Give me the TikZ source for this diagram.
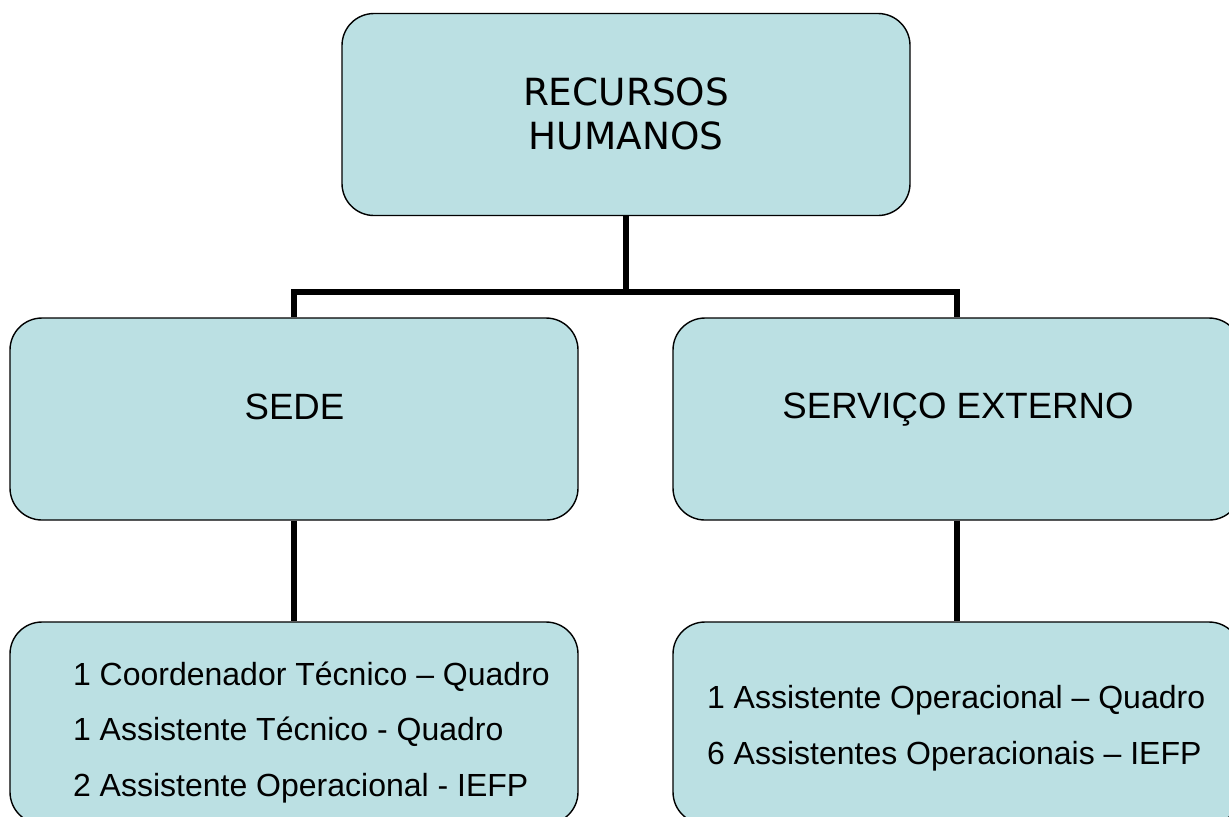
\documentclass[tikz,border=0pt]{standalone}
\usepackage{fontspec}
\setmainfont{Liberation Sans}
\newfontfamily\topofont{DejaVu Sans}
\usetikzlibrary{calc}
\definecolor{caixa}{RGB}{187,224,227}

\begin{document}
\begin{tikzpicture}[x=0.5pt, y=-0.5pt,
        box/.style={draw, fill=caixa, line width=0.7pt, rounded corners=16pt, minimum width=284pt, minimum height=101pt, inner sep=0pt},
        conn/.style={line width=2.6pt},
        lista/.style={align=left, anchor=west, font=\fontsize{16}{27.75}\selectfont},]
        \clip (0,0) rectangle (1229,816);
        \node[box] (topo) at (626,114.5) {};
        \node[box] (sede) at (294,419) {};
        \node[box] (servico) at (957,419) {};
        \node[box] (sedelista) at (294,723) {};
        \node[box] (servicolista) at (957,723) {};
        % textos
        \node[align=center, font=\topofont\fontsize{18.7}{22}\selectfont] (topotxt) at (626,114) {RECURSOS\\HUMANOS};
        \node[anchor=base, font=\fontsize{18.3}{22}\selectfont] (sedetxt) at (294.5,419) {SEDE};
        \node[anchor=base, font=\fontsize{18.3}{22}\selectfont] (servicotxt) at (958,418) {SERVIÇO EXTERNO};
        \node[lista] (sedelistatxt) at (66,732.5) {1 Coordenador Técnico – Quadro\\1 Assistente Técnico - Quadro\\2 Assistente Operacional - IEFP};
        \node[lista] (servicolistatxt) at (700,728) {1 Assistente Operacional – Quadro\\6 Assistentes Operacionais – IEFP};
        % ligacoes
        \coordinate (ramo) at (626,292);
        \draw[conn] (topo.south) -- (ramo);
        \draw[conn] (sede.north) |- (ramo) -| (servico.north);
        \draw[conn] (sede) -- (sedelista);
        \draw[conn] (servico) -- (servicolista);
\end{tikzpicture}
\end{document}
